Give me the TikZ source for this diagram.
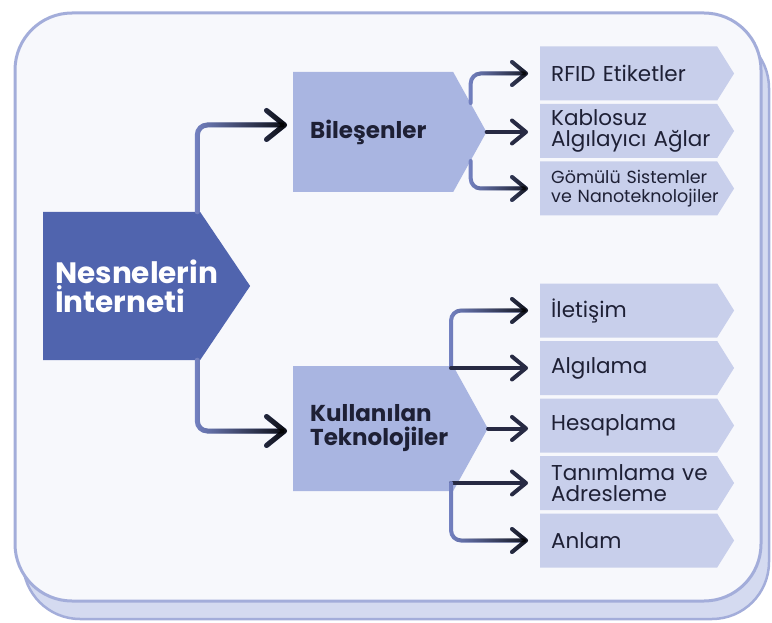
\documentclass[tikz,border=0pt]{standalone}
\usepackage{fontspec}
\setmainfont{Poppins}
\usetikzlibrary{shapes.symbols,arrows.meta,fadings}

\definecolor{panelline}{HTML}{A3ADDA}
\definecolor{panelfill}{HTML}{F7F8FC}
\definecolor{backfill}{HTML}{D4DAF0}
\definecolor{mainblue}{HTML}{5064AE}
\definecolor{midblue}{HTML}{A9B5E1}
\definecolor{leafblue}{HTML}{C8CFEB}
\definecolor{linkblue}{HTML}{7482C2}
\definecolor{inkdark}{HTML}{1E2035}
\tikzfading[name=fade in right,left color=transparent!100,right color=transparent!0]
\newcommand{\nohyph}{\hyphenpenalty=10000\relax}

\begin{document}
\begin{tikzpicture}[x=1pt,y=-1pt,
  mainbox/.style={shape=signal,signal to=east,signal pointer angle=112,fill=mainblue,text=white,font=\bfseries\fontsize{29.5}{29}\selectfont\nohyph,minimum height=148pt,text width=133pt,inner xsep=12pt,align=left},
  midbox/.style={shape=signal,signal to=east,signal pointer angle=122,fill=midblue,text=inkdark,font=\bfseries\fontsize{23}{24}\selectfont\nohyph,minimum height=120pt,text width=126pt,inner xsep=17pt,align=left},
  leaf/.style={shape=signal,signal to=east,signal pointer angle=116,fill=leafblue,text=inkdark,font=\fontsize{21.5}{21}\selectfont\nohyph,minimum height=54pt,text width=155pt,inner xsep=11pt,inner ysep=0pt,align=left},
  link/.style={line width=5pt,draw=linkblue,rounded corners=10pt,line cap=round,-{Straight Barb[length=18pt,width=29pt,round]},shorten >=6pt,postaction={draw=black,path fading=fade in right}},
  sublink/.style={link,line width=4pt,-{Straight Barb[length=14pt,width=23pt,round]},shorten >=12pt},
  flatlink/.style={line width=4pt,draw=inkdark!90!linkblue,line cap=round,-{Straight Barb[length=14pt,width=23pt,round]},shorten >=12pt}]
\useasboundingbox (0,0) rectangle (772,623);
% panels
\path[draw=panelline,fill=backfill,line width=2.5pt,rounded corners=57pt] (23,31) rectangle (769,619);
\path[draw=panelline,fill=panelfill,line width=3pt,rounded corners=57pt] (15,13) rectangle (761,601);

\node[mainbox,anchor=west] (main) at (43,286) {Nesnelerin\\İnterneti};
\node[midbox,anchor=west] (bil) at (293,132) {Bileşenler};
\node[midbox,anchor=west,minimum height=125pt] (kul) at (293,428.5) {Kullanılan\\Teknolojiler};

\node[leaf,anchor=west] (rfid) at (540,73.5) {RFID~Etiketler};
\node[leaf,anchor=west] (kab) at (540,131) {Kablosuz\\Algılayıcı~Ağlar};
\node[leaf,anchor=west,font=\fontsize{17.5}{19}\selectfont\nohyph] (gom) at (540,188.5) {Gömülü~Sistemler\\ve~Nanoteknolojiler};
\node[leaf,anchor=west] (ilet) at (540,310.5) {İletişim};
\node[leaf,anchor=west] (alg) at (540,368) {Algılama};
\node[leaf,anchor=west] (hes) at (540,425.5) {Hesaplama};
\node[leaf,anchor=west] (tan) at (540,483) {Tanımlama~ve\\Adresleme};
\node[leaf,anchor=west] (anl) at (540,540.5) {Anlam};

\coordinate (bil-up) at ([shift={(-16,-29)}]bil.east);
\coordinate (bil-dn) at ([shift={(-16,29)}]bil.east);
\coordinate (kul-up) at ([shift={(-37,-60.5)}]kul.east);
\coordinate (kul-dn) at ([shift={(-37,54.5)}]kul.east);

% connectors
\draw[link] ([xshift=-3pt]main.north east) |- ([yshift=7pt]bil.west);
\draw[link] ([xshift=-3pt]main.south east) |- ([yshift=-2.5pt]kul.west);
\draw[sublink] (bil-up) |- (rfid.west);
\draw[flatlink] (bil.east) -- (bil.east -| kab.west);
\draw[sublink] (bil-dn) |- (gom.west);
\draw[sublink] (kul-up) |- (ilet.west);
\draw[flatlink] (kul-up) -- (kul-up -| alg.west);
\draw[flatlink] (kul.east) -- (kul.east -| hes.west);
\draw[flatlink] (kul-dn) -- (kul-dn -| tan.west);
\draw[sublink] (kul-dn) |- (anl.west);
\end{tikzpicture}
\end{document}
